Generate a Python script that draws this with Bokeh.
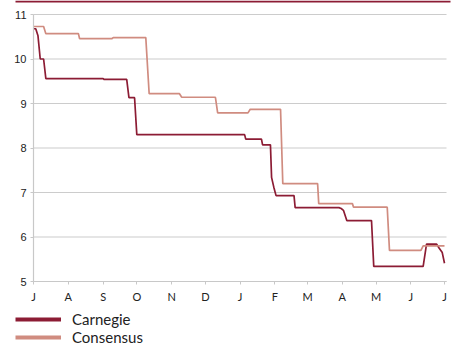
import pandas as pd
from bokeh.plotting import figure
from bokeh.models import (FixedTicker, CustomJSTickFormatter, Legend, LegendItem,
                          BoxAnnotation, Range1d)
from bokeh.embed import file_html
from bokeh.resources import INLINE

carnegie_dates = ["2011-07-01", "2011-07-03", "2011-07-05", "2011-07-07", "2011-07-10",
                  "2011-07-12", "2011-09-01", "2011-09-02", "2011-09-22", "2011-09-24",
                  "2011-09-29", "2011-10-01", "2012-01-05", "2012-01-06", "2012-01-20",
                  "2012-01-21", "2012-01-28", "2012-01-29", "2012-01-31", "2012-02-02",
                  "2012-02-18", "2012-02-19", "2012-03-29", "2012-03-31", "2012-04-02",
                  "2012-04-05", "2012-04-27", "2012-04-29", "2012-06-12", "2012-06-15",
                  "2012-06-24", "2012-06-26", "2012-06-29", "2012-07-01"]
carnegie_values = [10.68, 10.68, 10.52, 10.0, 10.0,
                   9.56, 9.56, 9.54, 9.54, 9.13,
                   9.13, 8.30, 8.30, 8.20, 8.20,
                   8.07, 8.07, 7.34, 7.12, 6.93,
                   6.93, 6.66, 6.66, 6.64, 6.60,
                   6.37, 6.37, 5.34, 5.34, 5.84,
                   5.84, 5.76, 5.65, 5.41]

consensus_dates = ["2011-07-01", "2011-07-10", "2011-07-12", "2011-08-10", "2011-08-11",
                   "2011-09-09", "2011-09-10", "2011-10-09", "2011-10-12", "2011-11-08",
                   "2011-11-10", "2011-12-10", "2011-12-12", "2012-01-08", "2012-01-10",
                   "2012-02-06", "2012-02-08", "2012-03-10", "2012-03-11", "2012-04-10",
                   "2012-04-11", "2012-05-11", "2012-05-13", "2012-06-10", "2012-06-12",
                   "2012-07-01"]
consensus_values = [10.73, 10.73, 10.57, 10.57, 10.46,
                    10.46, 10.48, 10.48, 9.22, 9.22,
                    9.14, 9.14, 8.79, 8.79, 8.87,
                    8.87, 7.20, 7.20, 6.75, 6.75,
                    6.67, 6.67, 5.70, 5.70, 5.80,
                    5.80]

month_ticks = ["2011-07-01", "2011-08-01", "2011-09-01", "2011-10-01", "2011-11-01",
               "2011-12-01", "2012-01-01", "2012-02-01", "2012-03-01", "2012-04-01",
               "2012-05-01", "2012-06-01", "2012-07-01"]
month_labels = ["J", "A", "S", "O", "N", "D", "J", "F", "M", "A", "M", "J", "J"]
y_ticks = [5, 6, 7, 8, 9, 10, 11]
series_names = ["Carnegie", "Consensus"]

DARK = "#8c1c34"
LIGHT = "#d08c80"
FONT = "Lato"

cd = pd.to_datetime(carnegie_dates)
sd = pd.to_datetime(consensus_dates)
tick_ms = [int(pd.Timestamp(t).value // 10**6) for t in month_ticks]

# ---- page layout (pixels) -> data ranges, so the frame fills the whole canvas
W, H = 456, 346
PX_X0, PX_X1 = 33, 444      # first / last month tick
PX_Y11, PX_Y5 = 14, 281     # y = 11 / y = 5
ms_per_px = (tick_ms[-1] - tick_ms[0]) / (PX_X1 - PX_X0)
x_start = tick_ms[0] - PX_X0 * ms_per_px
u_per_px = (y_ticks[-1] - y_ticks[0]) / (PX_Y5 - PX_Y11)
y_top = y_ticks[-1] + PX_Y11 * u_per_px


def xd(px):
    return x_start + px * ms_per_px


def yd(py):
    return y_top - py * u_per_px


p = figure(width=W, height=H, x_axis_type="datetime",
           output_backend="svg", toolbar_location=None,
           min_border_left=0, min_border_right=0, min_border_top=0, min_border_bottom=0)
p.title.visible = False
p.x_range = Range1d(xd(0), xd(W))
p.y_range = Range1d(yd(H), yd(0))
p.outline_line_color = None
p.background_fill_color = "white"
p.border_fill_color = "white"
p.xgrid.grid_line_color = None
p.ygrid.grid_line_color = None

grid_end = xd(446)
p.segment(x0=[tick_ms[0]] * len(y_ticks), x1=[grid_end] * len(y_ticks),
          y0=y_ticks, y1=y_ticks, line_color="#cccccc", line_width=1.2)

r1 = p.line(cd, carnegie_values, line_color=DARK, line_width=1.7)
r2 = p.line(sd, consensus_values, line_color=LIGHT, line_width=1.7)

p.xaxis.ticker = FixedTicker(ticks=tick_ms)
p.xaxis.formatter = CustomJSTickFormatter(args=dict(labels=month_labels, tks=tick_ms), code="""
    const i = tks.indexOf(tick);
    return i >= 0 ? labels[i] : "";
""")
p.yaxis.ticker = FixedTicker(ticks=y_ticks)
p.xaxis.fixed_location = y_ticks[0]
p.yaxis.fixed_location = tick_ms[0]
p.xaxis.bounds = (tick_ms[0], grid_end)
p.yaxis.bounds = (y_ticks[0], y_ticks[-1])

for ax in (p.xaxis[0], p.yaxis[0]):
    ax.axis_line_color = "#c8c8c8"
    ax.axis_line_width = 1.2
    ax.major_tick_line_color = "#c8c8c8"
    ax.major_tick_in = 0
    ax.major_tick_out = 3
    ax.minor_tick_line_color = None
    ax.major_label_text_font_size = "11px"
    ax.major_label_text_color = "#222222"
p.xaxis.major_label_text_font = FONT
p.yaxis.major_label_text_font = "Liberation Sans"
p.xaxis.major_label_standoff = 5
p.yaxis.major_label_standoff = 4

# thin dark rule across the top of the page
p.add_layout(BoxAnnotation(left=xd(15), right=xd(450), top=yd(0), bottom=yd(2),
                           fill_color=DARK, fill_alpha=1, line_color=None))

# legend handles (single point: nothing drawn in the chart, only used for swatches)
handles = [p.line(x=[cd[0]], y=[carnegie_values[0]], line_color=DARK, line_width=4),
           p.line(x=[sd[0]], y=[consensus_values[0]], line_color=LIGHT, line_width=4)]
legend = Legend(items=[LegendItem(label=n, renderers=[h]) for n, h in zip(series_names, handles)],
                location=(15, 0), orientation="vertical")
legend.background_fill_alpha = 0
legend.border_line_color = None
legend.padding = 0
legend.margin = 0
legend.spacing = 0
legend.glyph_width = 46
legend.glyph_height = 18
legend.label_height = 18
legend.label_standoff = 11
legend.label_text_font = FONT
legend.label_text_font_size = "15px"
legend.label_text_color = "#222222"
p.add_layout(legend, "center")

open("out.html", "w").write(file_html(p, INLINE))
